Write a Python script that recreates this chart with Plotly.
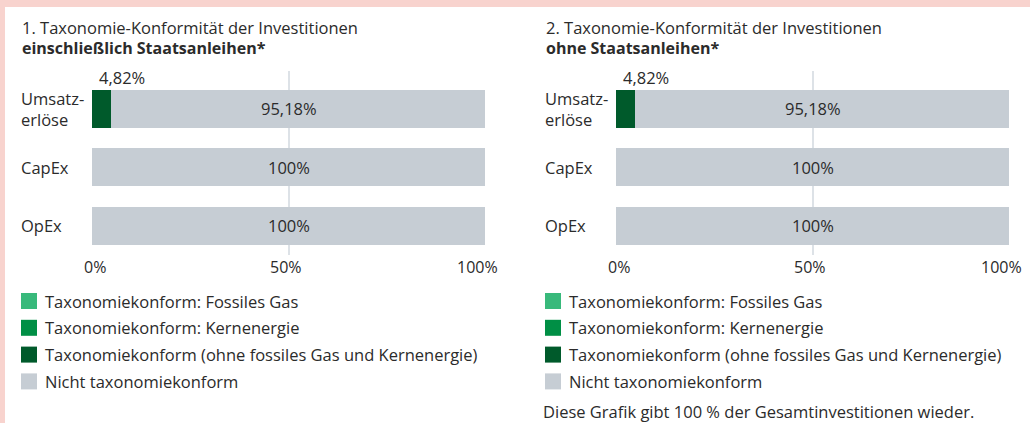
import plotly.graph_objects as go

W, H = 1030, 423

categories = ["Umsatz-<br>erlöse", "CapEx", "OpEx"]
series_names = [
    "Taxonomiekonform: Fossiles Gas",
    "Taxonomiekonform: Kernenergie",
    "Taxonomiekonform (ohne fossiles Gas und Kernenergie)",
    "Nicht taxonomiekonform",
]
series_colors = ["#38b97b", "#008f45", "#005a2b", "#c6cdd4"]

# chart 1: including sovereign bonds
chart1_values = [
    [0, 0, 0],
    [0, 0, 0],
    [4.82, 0, 0],
    [95.18, 100, 100],
]
# chart 2: excluding sovereign bonds
chart2_values = [
    [0, 0, 0],
    [0, 0, 0],
    [4.82, 0, 0],
    [95.18, 100, 100],
]

titles_line1 = ["1. Taxonomie-Konformität der Investitionen", "2. Taxonomie-Konformität der Investitionen"]
titles_line2 = ["einschließlich Staatsanleihen*", "ohne Staatsanleihen*"]
x_tickvals = [0, 50, 100]
x_ticktext = ["0%", "50%", "100%"]
footnote = "Diese Grafik gibt 100 % der Gesamtinvestitionen wieder."

FONT = "Open Sans"
TXT = "#2b2b2b"
FS = 16.5


def px(x):
    return x / W


def py(y):
    return 1 - y / H


def fmt(v):
    s = ("%.2f" % v).rstrip("0").rstrip(".")
    return s.replace(".", ",") + "%"


fig = go.Figure()

charts = [chart1_values, chart2_values]
xaxes = ["x", "x2"]
yaxes = ["y", "y2"]
for ci, vals in enumerate(charts):
    for si, name in enumerate(series_names):
        fig.add_trace(go.Bar(
            y=categories, x=vals[si], name=name, orientation="h",
            marker=dict(color=series_colors[si], line=dict(width=0)),
            xaxis=xaxes[ci], yaxis=yaxes[ci], showlegend=False,
            hoverinfo="x+name",
        ))

x_domains = [[px(92), px(485)], [px(616), px(1009)]]
y_domain = [py(255), py(71)]

axis_x = dict(range=[0, 100], tickvals=x_tickvals, ticktext=x_ticktext,
              showticklabels=False,
              showgrid=True, gridcolor="#dde2e7", gridwidth=1.5,
              zeroline=False, showline=False, ticks="", automargin=False,
              fixedrange=True)
axis_y = dict(type="category", categoryarray=categories, range=[2.5, -0.65],
              showticklabels=False, showgrid=False, zeroline=False,
              showline=False, ticks="", automargin=False, fixedrange=True)

fig.update_layout(
    width=W, height=H, autosize=False,
    margin=dict(l=0, r=0, t=0, b=0, pad=0, autoexpand=False),
    paper_bgcolor="white", plot_bgcolor="rgba(0,0,0,0)",
    barmode="stack", bargap=0.35, showlegend=False,
    font=dict(family=FONT, size=FS, color=TXT),
    xaxis=dict(domain=x_domains[0], anchor="y", **axis_x),
    xaxis2=dict(domain=x_domains[1], anchor="y2", **axis_x),
    yaxis=dict(domain=y_domain, anchor="x", **axis_y),
    yaxis2=dict(domain=y_domain, anchor="x2", **axis_y),
)

shapes = [
    # pink frame
    dict(type="rect", xref="paper", yref="paper", x0=0, x1=1, y0=py(7), y1=1,
         fillcolor="#f8d3ce", line=dict(width=0), layer="above"),
    dict(type="rect", xref="paper", yref="paper", x0=0, x1=px(5), y0=0, y1=1,
         fillcolor="#f8d3ce", line=dict(width=0), layer="above"),
]
annotations = []

tick_shift = [3, -3, -8]
left_x = [21, 545]
for ci, vals in enumerate(charts):
    xa, ya = xaxes[ci], yaxes[ci]
    lx = left_x[ci]
    # titles
    annotations.append(dict(xref="paper", yref="paper", x=px(lx - 1), y=py(28),
                            xanchor="left", yanchor="middle", showarrow=False,
                            text=titles_line1[ci], font=dict(size=FS)))
    annotations.append(dict(xref="paper", yref="paper", x=px(lx - 1), y=py(48),
                            xanchor="left", yanchor="middle", showarrow=False,
                            text="<b>" + titles_line2[ci] + "</b>", font=dict(size=16)))
    # x tick labels (placed on the axis scale)
    for tv, tt, sh in zip(x_tickvals, x_ticktext, tick_shift):
        annotations.append(dict(xref=xa, yref="paper", x=tv, y=py(267), xshift=sh,
                                xanchor="center", yanchor="middle", showarrow=False,
                                text=tt, font=dict(size=16)))
    # category labels
    for cat in categories:
        annotations.append(dict(xref="paper", yref=ya, x=px(lx - 2), y=cat,
                                xanchor="left", yanchor="middle", align="left",
                                showarrow=False, text=cat, font=dict(size=FS)))
    # value labels
    for k, cat in enumerate(categories):
        aligned = vals[0][k] + vals[1][k] + vals[2][k]
        non = vals[3][k]
        if aligned > 0:
            annotations.append(dict(xref=xa, yref=ya, x=0, y=cat, xshift=5, yshift=31,
                                    xanchor="left", yanchor="middle", showarrow=False,
                                    text=fmt(aligned), font=dict(size=FS)))
        annotations.append(dict(xref=xa, yref=ya, x=50, y=cat,
                                xanchor="center", yanchor="middle", showarrow=False,
                                text=fmt(non), font=dict(size=FS)))
    # legend
    for si, name in enumerate(series_names):
        cy = 301 + si * 26.8
        shapes.append(dict(type="rect", xref="paper", yref="paper",
                           x0=px(lx), x1=px(lx + 16), y0=py(cy + 8), y1=py(cy - 8),
                           fillcolor=series_colors[si], line=dict(width=0)))
        annotations.append(dict(xref="paper", yref="paper", x=px(lx + 22), y=py(cy),
                                xanchor="left", yanchor="middle", showarrow=False,
                                text=name, font=dict(size=FS)))

annotations.append(dict(xref="paper", yref="paper", x=px(541), y=py(411),
                        xanchor="left", yanchor="middle", showarrow=False,
                        text=footnote, font=dict(size=FS)))

fig.update_layout(shapes=shapes, annotations=annotations)
fig.write_html("out.html")
